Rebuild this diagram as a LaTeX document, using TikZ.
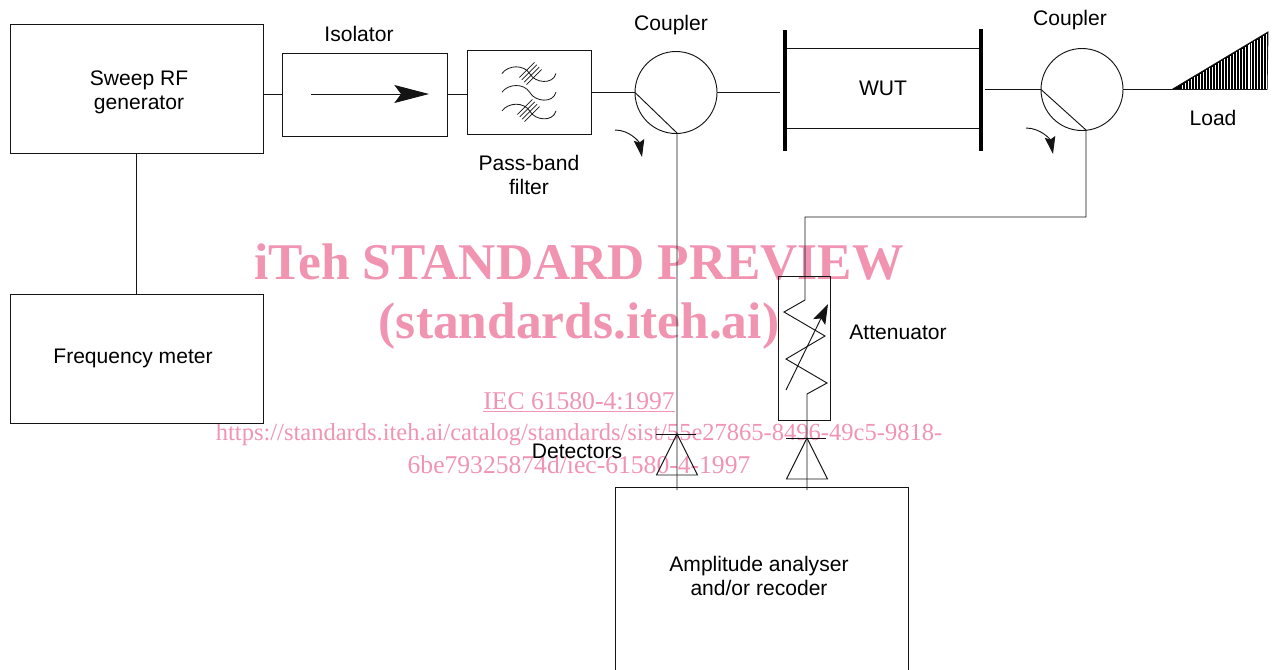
\documentclass[tikz,border=0pt]{standalone}
\usepackage{xcolor}
\usepackage{fontspec}
\setmainfont{Liberation Sans}
\newfontfamily\markfont{Liberation Serif}
\usepackage{tikz}
\usetikzlibrary{arrows.meta}
\definecolor{mydark}{RGB}{20,20,20}
\definecolor{mypink}{RGB}{240,148,178}
\tikzset{
  wire/.style={line width=0.7pt, color=mydark},
  box/.style={rectangle, draw=mydark, line width=0.6pt, inner sep=0pt, outer sep=0pt, align=center,
    font=\fontsize{15.8}{18}\selectfont},
  coupler/.style={circle, draw=mydark, line width=0.7pt, inner sep=0pt, outer sep=0pt, minimum size=61.5pt},
  lab/.style={inner sep=0pt, align=center, text=black, font=\fontsize{15.8}{18}\selectfont},
  bar/.style={line width=3.2pt, color=black},
  bigarrow/.style={wire, -{Stealth[length=26pt, width=13.5pt, inset=5pt]}},
  smallarrow/.style={wire, -{Stealth[length=13pt, width=8pt, inset=2pt]}},
  midarrow/.style={wire, -{Stealth[length=15pt, width=10pt, inset=3pt]}},
  markbig/.style={inner sep=0pt, text=mypink, font=\markfont\bfseries\fontsize{38.6}{40}\selectfont},
  marksmall/.style={inner sep=0pt, text=mypink, font=\markfont\fontsize{18.4}{22}\selectfont},
  markwide/.style={inner sep=0pt, text=mypink, font=\markfont\fontsize{19.2}{22}\selectfont}
}
\begin{document}
\begin{tikzpicture}[x=0.75pt, y=-0.75pt]
  \clip (0,0) rectangle (1277,669);
  \node[markbig] (markA) at (579,262) {iTeh STANDARD PREVIEW};
  \node[markbig] (markB) at (579,326) {(standards.iteh.ai)};
  \node[markwide] (markC) at (579,402) {\underline{IEC 61580-4:1997}};
  \node[marksmall] (markD) at (579,435) {https://standards.iteh.ai/catalog/standards/sist/55e27865-8496-49c5-9818-};
  \node[markwide] (markE) at (579,465) {6be79325874d/iec-61580-4-1997};

  \node[box, minimum width=189.75pt, minimum height=96.75pt] (gen) at (136.5,88.5) {};
  \node[lab] (genlab) at (139,92) {Sweep RF\\generator};
  \node[box, minimum width=189.75pt, minimum height=96.75pt] (meter) at (136.5,358.5) {};
  \node[lab] (meterlab) at (133,358) {Frequency meter};
  \node[box, minimum width=123.75pt, minimum height=62.25pt] (iso) at (364.5,94.5) {};
  \node[box, minimum width=93pt, minimum height=63pt] (filter) at (529,92.5) {};
  \node[coupler] (cplA) at (676,92.5) {};
  \node[box, minimum width=147pt, minimum height=60pt] (wut) at (883,88) {WUT};
  \node[coupler] (cplB) at (1082,89.5) {};
  \node[box, minimum width=39pt, minimum height=108pt] (atten) at (804,348) {};
  \node[box, minimum width=219.75pt, minimum height=159.75pt] (analyser) at (761.5,593.5) {};
  \node[lab] (analyserlab) at (759,576) {Amplitude analyser\\and/or recoder};

  \node[lab] (isolab) at (359,34) {Isolator};
  \node[lab] (cpllabA) at (671,25) {Coupler};
  \node[lab] (cpllabB) at (1070,20) {Coupler};
  \node[lab] (filterlab) at (529,175) {Pass-band\\filter};
  \node[lab] (loadlab) at (1213,118) {Load};
  \node[lab] (attenlab) at (898,332) {Attenuator};
  \node[lab] (detlab) at (577,451) {Detectors};

  \coordinate (wutin) at (780,92.5);
  \coordinate (wutout) at (985,89.5);
  \coordinate (portA) at (677,133);
  \coordinate (portB) at (1086,130);
  \coordinate (loadtip) at (1172,89.5);

  \draw[wire] (gen.south) -- (meter.north);
  \draw[wire] (gen.east |- iso.west) -- (iso.west);
  \draw[wire] (iso.east) -- (filter.west |- iso.east);
  \draw[wire] (filter.east) -- (cplA.west);
  \draw[wire] (cplA.east) -- (wutin);
  \draw[wire] (wutout) -- (cplB.west);
  \draw[wire] (cplB.east) -- (loadtip);
  \draw[wire] (cplA.west) -- (portA) -- (677,490);
  \draw[wire] (cplB.west) -- (portB) -- (1086,217) -- (805,217) -- (805,300) -- (784,312)
    -- (825,336) -- (786,359) -- (827,383) -- (807,394) -- (807,490);

  \draw[bar] (785,30) -- (785,151);
  \draw[bar] (981,29) -- (981,151);
  \draw[bigarrow] (311,94) -- (429,94);
  \draw[midarrow] (786,390) -- (828,304);
  \draw[smallarrow] (615,130) to[out=0, in=100] (642,157);
  \draw[smallarrow] (1026,128) to[out=0, in=100] (1053,154);

  \foreach \x/\y in {677/434,807/438} {
    \draw[wire] ({\x-20.5},{\y+41}) -- (\x,\y) -- ({\x+20.5},{\y+41}) -- cycle;
    \draw[wire] ({\x-21},\y) -- ({\x+19},\y);
  }

  \foreach \y in {0,18.7,37.4} {
    \draw[wire, line width=0.6pt] (502,{73.5+\y}) .. controls (508,{65+\y}) and (524,{64+\y}) .. (530,{74+\y})
      .. controls (535,{83+\y}) and (553,{85+\y}) .. (556,{73.5+\y});
  }
  \foreach \d in {-3.6,-1.2,1.2,3.6} {
    \draw[wire, line width=0.5pt] ({523+\d},{81+\d}) -- ({538+\d},{66+\d});
    \draw[wire, line width=0.5pt] ({521+\d},{118+\d}) -- ({536+\d},{103+\d});
  }

  \draw[wire, fill=black] (loadtip) -- (1268,32) -- (1267,89.5) -- cycle;
  \foreach \x in {1182,1185,...,1266} {
    \draw[white, line width=0.22pt] (\x,88.8) -- (\x,{88-(\x-1172)*0.6+2.5});
  }
  \foreach \x in {1230,1249} {
    \draw[white, line width=0.6pt] (\x,88.8) -- (\x,{88-(\x-1172)*0.6+2.5});
  }
\end{tikzpicture}
\end{document}
